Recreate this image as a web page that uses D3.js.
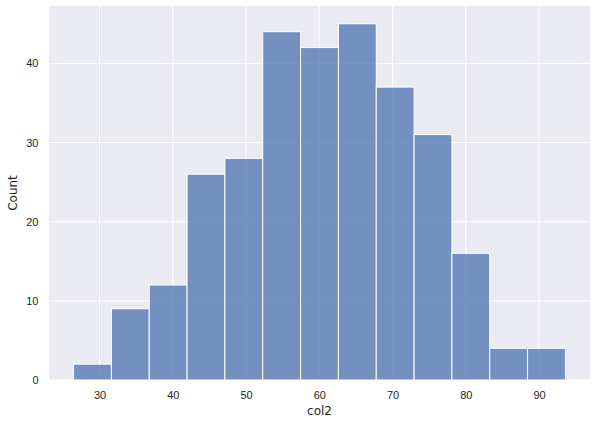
<!DOCTYPE html>
<html lang="en">
<head>
    <meta charset="UTF-8">
    <title>col2 histogram</title>
    <script src="https://d3js.org/d3.v7.min.js"></script>
    <style>
        body {
            margin: 0;
            background: #fff;
            font-family: "DejaVu Sans", sans-serif;
        }
        .tick text {
            font-size: 11px;
            fill: #262626;
        }
        .axis-label {
            font-size: 12px;
            fill: #262626;
        }
    </style>
</head>
<body>
    <svg id="chart" width="597" height="424"></svg>

    <script>
        // histogram bins (lower edges) and counts
        const binStart = 26.46;
        const binWidth = 5.165;
        const counts = [2, 9, 12, 26, 28, 44, 42, 45, 37, 31, 16, 4, 4];
        const xTicks = [30, 40, 50, 60, 70, 80, 90];
        const yTicks = [0, 10, 20, 30, 40];

        const margin = {top: 6, right: 7, bottom: 44, left: 49};
        const width = 597, height = 424;

        const svg = d3.select("#chart");

        const bins = counts.map((c, i) => ({
            x0: binStart + i * binWidth,
            x1: binStart + (i + 1) * binWidth,
            count: c
        }));

        const lo = bins[0].x0, hi = bins[bins.length - 1].x1;
        const pad = (hi - lo) * 0.05;

        const x = d3.scaleLinear()
            .domain([lo - pad, hi + pad])
            .range([margin.left, width - margin.right]);

        const y = d3.scaleLinear()
            .domain([0, d3.max(counts) * 1.05])
            .range([height - margin.bottom, margin.top]);

        // plot background
        svg.append("rect")
            .attr("x", margin.left)
            .attr("y", margin.top)
            .attr("width", width - margin.left - margin.right)
            .attr("height", height - margin.top - margin.bottom)
            .attr("fill", "#eaeaf2");

        // grid lines
        const grid = svg.append("g");
        grid.selectAll(".gx")
            .data(xTicks)
            .enter()
            .append("line")
            .attr("x1", d => x(d))
            .attr("x2", d => x(d))
            .attr("y1", margin.top)
            .attr("y2", height - margin.bottom)
            .attr("stroke", "#fff")
            .attr("stroke-width", 1);
        grid.selectAll(".gy")
            .data(yTicks)
            .enter()
            .append("line")
            .attr("x1", margin.left)
            .attr("x2", width - margin.right)
            .attr("y1", d => y(d))
            .attr("y2", d => y(d))
            .attr("stroke", "#fff")
            .attr("stroke-width", 1);

        // bars
        svg.append("g")
            .selectAll("rect")
            .data(bins)
            .enter()
            .append("rect")
            .attr("x", d => x(d.x0))
            .attr("y", d => y(d.count))
            .attr("width", d => x(d.x1) - x(d.x0))
            .attr("height", d => y(0) - y(d.count))
            .attr("fill", "#4c72b0")
            .attr("fill-opacity", 0.75)
            .attr("stroke", "#fff")
            .attr("stroke-width", 1);

        // axes
        const xAxis = svg.append("g")
            .attr("transform", `translate(0,${height - margin.bottom})`)
            .call(d3.axisBottom(x).tickValues(xTicks).tickSize(0).tickPadding(11));
        xAxis.select(".domain").remove();

        const yAxis = svg.append("g")
            .attr("transform", `translate(${margin.left},0)`)
            .call(d3.axisLeft(y).tickValues(yTicks).tickSize(0).tickPadding(10.5));
        yAxis.select(".domain").remove();

        svg.append("text")
            .attr("class", "axis-label")
            .attr("x", (margin.left + width - margin.right) / 2)
            .attr("y", 415)
            .attr("text-anchor", "middle")
            .text("col2");

        svg.append("text")
            .attr("class", "axis-label")
            .attr("transform", `translate(17,${(margin.top + height - margin.bottom) / 2}) rotate(-90)`)
            .attr("text-anchor", "middle")
            .text("Count");
    </script>
</body>
</html>
